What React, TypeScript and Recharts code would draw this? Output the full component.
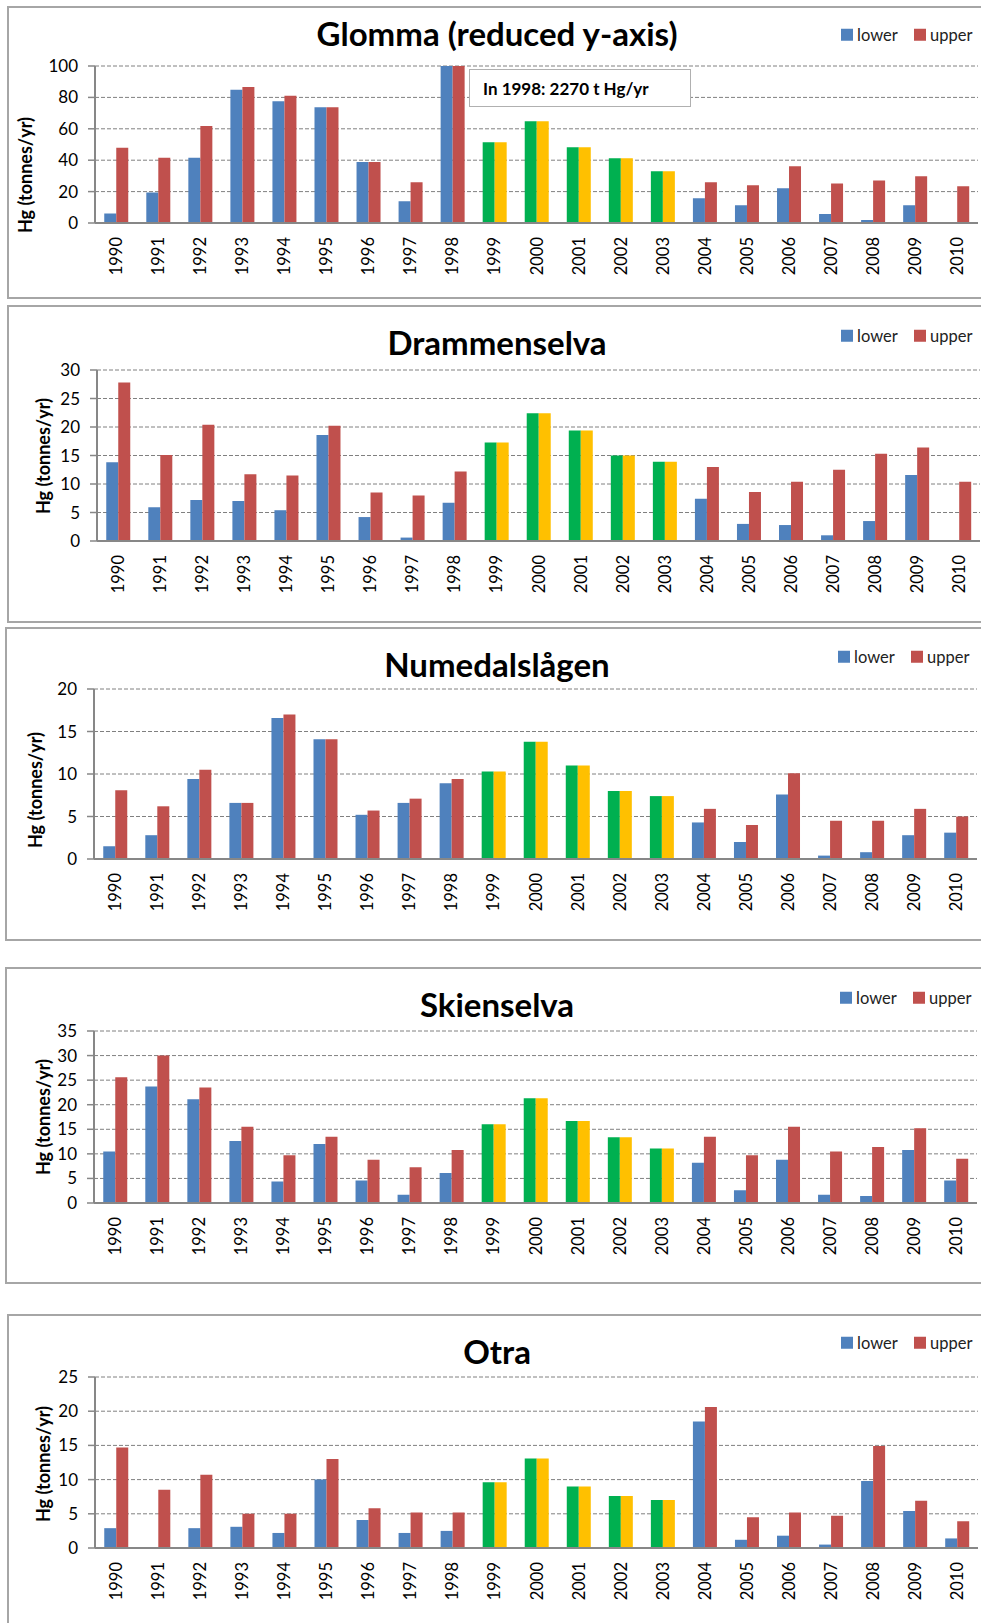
import React from "react";
import { BarChart, Bar, Cell, XAxis, YAxis, CartesianGrid } from "recharts";

const years = [
  1990, 1991, 1992, 1993, 1994, 1995, 1996, 1997, 1998, 1999, 2000, 2001, 2002,
  2003, 2004, 2005, 2006, 2007, 2008, 2009, 2010,
];
// years drawn green / yellow
const modelledYears = [1999, 2000, 2001, 2002, 2003];

const glommaLower = [6, 19.5, 41.6, 84.9, 77.5, 73.7, 38.9, 13.8, 2270, 51.4, 64.8, 48.2, 41.2, 32.9, 15.7, 11.3, 22.1, 5.7, 1.9, 11.3, 0];
const glommaUpper = [48, 41.6, 61.8, 86.6, 81.1, 73.7, 38.9, 25.9, 2270, 51.4, 64.8, 48.2, 41.2, 32.9, 25.9, 24, 36.1, 25.1, 27, 29.7, 23.4];
const glommaTicks = [0, 20, 40, 60, 80, 100];

const drammenLower = [13.8, 5.9, 7.2, 7.0, 5.4, 18.6, 4.2, 0.6, 6.7, 17.3, 22.4, 19.4, 15.0, 13.9, 7.4, 3.0, 2.8, 1.0, 3.5, 11.6, 0];
const drammenUpper = [27.8, 15.1, 20.4, 11.7, 11.5, 20.2, 8.5, 8.0, 12.2, 17.3, 22.4, 19.4, 15.0, 13.9, 13.0, 8.6, 10.4, 12.5, 15.3, 16.4, 10.4];
const drammenTicks = [0, 5, 10, 15, 20, 25, 30];

const numedalLower = [1.5, 2.8, 9.4, 6.6, 16.6, 14.1, 5.2, 6.6, 8.9, 10.3, 13.8, 11.0, 8.0, 7.4, 4.3, 2.0, 7.6, 0.4, 0.8, 2.8, 3.1];
const numedalUpper = [8.1, 6.2, 10.5, 6.6, 17.0, 14.1, 5.7, 7.1, 9.4, 10.3, 13.8, 11.0, 8.0, 7.4, 5.9, 4.0, 10.1, 4.5, 4.5, 5.9, 5.0];
const numedalTicks = [0, 5, 10, 15, 20];

const skienLower = [10.5, 23.7, 21.1, 12.6, 4.4, 12.0, 4.6, 1.7, 6.1, 16.0, 21.3, 16.7, 13.4, 11.1, 8.2, 2.6, 8.8, 1.7, 1.4, 10.8, 4.6];
const skienUpper = [25.6, 30.0, 23.5, 15.5, 9.7, 13.5, 8.8, 7.3, 10.8, 16.0, 21.3, 16.7, 13.4, 11.1, 13.5, 9.7, 15.5, 10.5, 11.4, 15.2, 9.0];
const skienTicks = [0, 5, 10, 15, 20, 25, 30, 35];

const otraLower = [2.9, 0, 2.9, 3.1, 2.2, 10.0, 4.1, 2.2, 2.5, 9.6, 13.1, 9.0, 7.6, 7.0, 18.5, 1.2, 1.8, 0.5, 9.8, 5.4, 1.4];
const otraUpper = [14.7, 8.5, 10.7, 5.0, 5.0, 13.0, 5.8, 5.2, 5.2, 9.6, 13.1, 9.0, 7.6, 7.0, 20.6, 4.5, 5.2, 4.7, 14.9, 6.9, 3.9];
const otraTicks = [0, 5, 10, 15, 20, 25];

const BLUE = "#4F81BD";
const RED = "#C0504D";
const GREEN = "#00B050";
const YELLOW = "#FFC000";
const AXIS = "#878787";
const BORDER = "#a6a6a6";
const FONT = "Lato, 'Open Sans', sans-serif";

const panels = [
  {
    title: "Glomma (reduced y-axis)", lower: glommaLower, upper: glommaUpper, ticks: glommaTicks,
    box: { left: 7, top: 6, height: 293 }, plotTop: 66, zeroY: 223, axisX: 95, plotRight: 978,
    titleY: 33, legendY: 35, legendX: 841, yLabel: { x: 25, y: 175 },
    note: "In 1998: 2270 t Hg/yr",
  },
  {
    title: "Drammenselva", lower: drammenLower, upper: drammenUpper, ticks: drammenTicks,
    box: { left: 7, top: 305, height: 318 }, plotTop: 370, zeroY: 541, axisX: 97, plotRight: 980,
    titleY: 342, legendY: 336, legendX: 841, yLabel: { x: 43, y: 456 },
  },
  {
    title: "Numedalslågen", lower: numedalLower, upper: numedalUpper, ticks: numedalTicks,
    box: { left: 5, top: 627, height: 314 }, plotTop: 689, zeroY: 859, axisX: 94, plotRight: 977,
    titleY: 664, legendY: 657, legendX: 838, yLabel: { x: 35, y: 790 },
  },
  {
    title: "Skienselva", lower: skienLower, upper: skienUpper, ticks: skienTicks,
    box: { left: 5, top: 967, height: 317 }, plotTop: 1031, zeroY: 1203, axisX: 94, plotRight: 977,
    titleY: 1004, legendY: 998, legendX: 840, yLabel: { x: 43, y: 1117 },
  },
  {
    title: "Otra", lower: otraLower, upper: otraUpper, ticks: otraTicks,
    box: { left: 7, top: 1314, height: 400 }, plotTop: 1377, zeroY: 1548, axisX: 95, plotRight: 978,
    titleY: 1351, legendY: 1343, legendX: 841, yLabel: { x: 43, y: 1464 },
  },
];

const YearTick = (props: any) => {
  const { x, y, payload } = props;
  return (
    <text
      transform={`translate(${x},${y + 14}) rotate(-90)`}
      textAnchor="end"
      dominantBaseline="central"
      fontSize={16.5}
      fontFamily={FONT}
      fill="#000"
    >
      {payload.value}
    </text>
  );
};

function Panel({ p }: { p: (typeof panels)[number] }) {
  const data = years.map((year, i) => ({ year, lower: p.lower[i], upper: p.upper[i] }));
  const top = p.plotTop - 20;
  const height = 20 + (p.zeroY - p.plotTop) + 60;
  const max = p.ticks[p.ticks.length - 1];

  return (
    <>
      <div
        style={{
          position: "absolute",
          left: p.box.left,
          top: p.box.top,
          width: 1000,
          height: p.box.height,
          border: `2px solid ${BORDER}`,
          boxSizing: "border-box",
          background: "#fff",
        }}
      />
      <div style={{ position: "absolute", left: 0, top }}>
        <BarChart
          width={p.plotRight + 1}
          height={height}
          data={data}
          margin={{ top: 20, right: 1, bottom: 0, left: 0 }}
          barCategoryGap="22%"
          barGap={0}
        >
          <CartesianGrid vertical={false} stroke="#808080" strokeDasharray="4 2" />
          <XAxis
            dataKey="year"
            interval={0}
            height={60}
            tickLine={false}
            tickSize={0}
            tickMargin={0}
            axisLine={{ stroke: AXIS, strokeWidth: 2 }}
            tick={<YearTick />}
          />
          <YAxis
            width={p.axisX}
            domain={[0, max]}
            ticks={p.ticks}
            interval={0}
            allowDataOverflow
            tickSize={7}
            tickMargin={10}
            axisLine={{ stroke: AXIS, strokeWidth: 2 }}
            tickLine={{ stroke: AXIS, strokeWidth: 1.5 }}
            tick={{ fontSize: 17, fontFamily: FONT, fill: "#000" }}
          />
          <Bar dataKey="lower" isAnimationActive={false}>
            {data.map((d) => (
              <Cell key={d.year} fill={modelledYears.includes(d.year) ? GREEN : BLUE} />
            ))}
          </Bar>
          <Bar dataKey="upper" isAnimationActive={false}>
            {data.map((d) => (
              <Cell key={d.year} fill={modelledYears.includes(d.year) ? YELLOW : RED} />
            ))}
          </Bar>
        </BarChart>
      </div>
      <div
        style={{
          position: "absolute",
          left: 497,
          top: p.titleY,
          transform: "translate(-50%, -50%)",
          fontFamily: FONT,
          fontWeight: 700,
          fontSize: 33,
          lineHeight: 1,
          whiteSpace: "nowrap",
          color: "#000",
        }}
      >
        {p.title}
      </div>
      <div
        style={{
          position: "absolute",
          left: p.yLabel.x,
          top: p.yLabel.y,
          transform: "translate(-50%, -50%) rotate(-90deg)",
          fontFamily: FONT,
          fontWeight: 700,
          fontSize: 18,
          lineHeight: 1,
          whiteSpace: "nowrap",
          color: "#000",
        }}
      >
        Hg (tonnes/yr)
      </div>
      <div
        style={{
          position: "absolute",
          left: p.legendX,
          top: p.legendY,
          transform: "translateY(-50%)",
          display: "flex",
          alignItems: "center",
          fontFamily: FONT,
          fontSize: 16.5,
          lineHeight: 1,
          color: "#222",
          whiteSpace: "nowrap",
        }}
      >
        <span style={{ width: 12, height: 12, background: BLUE, marginRight: 4 }} />
        <span style={{ width: 57 }}>lower</span>
        <span style={{ width: 12, height: 12, background: RED, marginRight: 4 }} />
        <span>upper</span>
      </div>
      {p.note && (
        <div
          style={{
            position: "absolute",
            left: 469,
            top: 69,
            width: 222,
            height: 38,
            border: "1.5px solid #b0b0b0",
            boxSizing: "border-box",
            background: "#fff",
            display: "flex",
            alignItems: "center",
            paddingLeft: 13,
            fontFamily: FONT,
            fontWeight: 700,
            fontSize: 17,
            color: "#000",
          }}
        >
          {p.note}
        </div>
      )}
    </>
  );
}

export default function App() {
  return (
    <div
      style={{
        position: "absolute",
        left: 0,
        top: 0,
        width: 981,
        height: 1623,
        overflow: "hidden",
        background: "#fff",
      }}
    >
      {panels.map((p) => (
        <Panel key={p.title} p={p} />
      ))}
    </div>
  );
}
